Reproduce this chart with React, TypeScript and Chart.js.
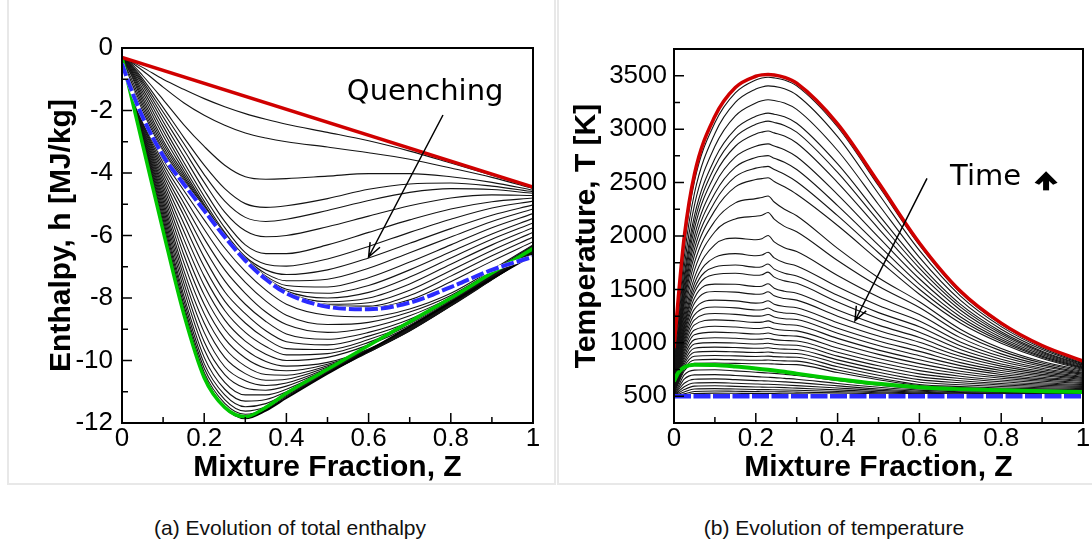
import React, { useEffect, useRef } from 'react';
import Chart from 'chart.js/auto';

// ---------------- Panel (a): total enthalpy ----------------
const enthalpyZ = [0, 0.02, 0.05, 0.1, 0.15, 0.2, 0.25, 0.3, 0.35, 0.4, 0.5, 0.6, 0.7, 0.8, 0.9, 1.0];
const enthalpyRedZ = [0, 1];
const enthalpyRed = [-0.3, -4.45];
const enthalpyBlue = [-0.5, -1.25, -2.2, -3.45, -4.35, -5.2, -6.05, -6.8, -7.4, -7.85, -8.28, -8.36, -8.15, -7.65, -7.1, -6.68];
const enthalpyGreen = [-0.3, -1.42, -3.08, -5.85, -8.5, -10.55, -11.5, -11.8, -11.5, -11.05, -10.28, -9.52, -8.76, -8.0, -7.2, -6.42];
const enthalpyBottom = [-0.33, -1.4, -3.05, -5.8, -8.45, -10.5, -11.5, -11.85, -11.6, -11.2, -10.42, -9.68, -8.92, -8.15, -7.38, -6.62];
const enthalpyUpper: number[][] = [
  [-0.3, -0.42, -0.62, -1.0, -1.32, -1.62, -1.88, -2.1, -2.28, -2.44, -2.7, -2.97, -3.3, -3.68, -4.07, -4.47],
  [-0.3, -0.44, -0.72, -1.25, -1.75, -2.15, -2.47, -2.72, -2.88, -3.0, -3.17, -3.35, -3.56, -3.84, -4.14, -4.5],
  [-0.3, -0.47, -0.88, -1.65, -2.45, -3.15, -3.75, -4.12, -4.2, -4.18, -4.1, -4.02, -4.02, -4.12, -4.3, -4.55],
  [-0.3, -0.5, -0.98, -1.9, -2.85, -3.75, -4.5, -4.98, -5.1, -5.05, -4.82, -4.52, -4.35, -4.32, -4.42, -4.6],
  [-0.3, -0.52, -1.05, -2.05, -3.05, -4.05, -4.9, -5.42, -5.55, -5.48, -5.2, -4.88, -4.62, -4.5, -4.53, -4.65],
  [-0.3, -0.55, -1.12, -2.2, -3.25, -4.3, -5.25, -5.85, -6.04, -6.0, -5.72, -5.38, -5.05, -4.8, -4.7, -4.72],
  [-0.3, -0.58, -1.2, -2.35, -3.45, -4.55, -5.55, -6.3, -6.58, -6.58, -6.3, -5.9, -5.5, -5.15, -4.92, -4.8],
  [-0.3, -0.62, -1.3, -2.5, -3.65, -4.75, -5.75, -6.55, -6.92, -6.98, -6.75, -6.35, -5.9, -5.48, -5.12, -4.9],
  [-0.3, -0.66, -1.4, -2.65, -3.8, -4.9, -5.9, -6.68, -7.1, -7.25, -7.1, -6.72, -6.25, -5.78, -5.35, -5.02],
  [-0.3, -0.7, -1.5, -2.8, -3.92, -5.0, -5.95, -6.72, -7.22, -7.45, -7.4, -7.05, -6.55, -6.05, -5.55, -5.15],
  [-0.32, -0.75, -1.6, -2.95, -4.02, -5.05, -5.98, -6.75, -7.3, -7.6, -7.65, -7.35, -6.85, -6.3, -5.75, -5.3],
  [-0.32, -0.8, -1.7, -3.05, -4.1, -5.1, -6.0, -6.77, -7.35, -7.72, -7.85, -7.6, -7.1, -6.52, -5.95, -5.45],
  [-0.33, -0.9, -1.8, -3.15, -4.17, -5.13, -6.02, -6.78, -7.38, -7.78, -8.0, -7.82, -7.33, -6.72, -6.12, -5.6],
  [-0.33, -1.0, -1.9, -3.25, -4.23, -5.16, -6.03, -6.79, -7.39, -7.82, -8.12, -8.0, -7.55, -6.92, -6.3, -5.75],
  [-0.33, -1.1, -2.0, -3.33, -4.28, -5.18, -6.04, -6.8, -7.4, -7.84, -8.2, -8.15, -7.75, -7.12, -6.48, -5.9],
  [-0.33, -1.15, -2.08, -3.38, -4.31, -5.19, -6.05, -6.8, -7.4, -7.85, -8.24, -8.26, -7.92, -7.3, -6.65, -6.05],
  [-0.33, -1.2, -2.14, -3.42, -4.33, -5.2, -6.05, -6.8, -7.4, -7.85, -8.26, -8.32, -8.06, -7.48, -6.82, -6.2],
];
const enthalpyLower: number[][] = [
  [-0.33, -1.26, -2.25, -3.56, -4.55, -5.5, -6.4, -7.15, -7.75, -8.2, -8.55, -8.6, -8.35, -7.85, -7.1, -6.3],
  [-0.33, -1.27, -2.3, -3.68, -4.75, -5.8, -6.75, -7.5, -8.1, -8.55, -8.85, -8.78, -8.45, -7.92, -7.15, -6.32],
  [-0.33, -1.28, -2.35, -3.8, -4.95, -6.1, -7.1, -7.85, -8.45, -8.85, -9.1, -8.95, -8.57, -7.98, -7.2, -6.34],
  [-0.33, -1.29, -2.4, -3.92, -5.15, -6.4, -7.45, -8.2, -8.75, -9.15, -9.32, -9.1, -8.68, -8.03, -7.23, -6.36],
  [-0.33, -1.3, -2.45, -4.04, -5.35, -6.7, -7.8, -8.5, -9.05, -9.4, -9.5, -9.22, -8.76, -8.07, -7.26, -6.38],
  [-0.33, -1.31, -2.5, -4.16, -5.6, -7.0, -8.1, -8.8, -9.3, -9.62, -9.65, -9.33, -8.82, -8.1, -7.28, -6.4],
  [-0.33, -1.32, -2.55, -4.28, -5.85, -7.3, -8.4, -9.1, -9.55, -9.82, -9.78, -9.42, -8.87, -8.12, -7.29, -6.42],
  [-0.33, -1.33, -2.6, -4.4, -6.1, -7.6, -8.7, -9.38, -9.8, -10.0, -9.9, -9.5, -8.91, -8.14, -7.3, -6.44],
  [-0.33, -1.34, -2.65, -4.52, -6.35, -7.9, -9.0, -9.65, -10.03, -10.18, -10.06, -9.63, -8.96, -8.16, -7.32, -6.46],
  [-0.33, -1.35, -2.7, -4.64, -6.6, -8.2, -9.3, -9.92, -10.25, -10.33, -10.12, -9.65, -8.97, -8.17, -7.33, -6.48],
  [-0.33, -1.35, -2.75, -4.76, -6.85, -8.5, -9.6, -10.18, -10.45, -10.47, -10.17, -9.66, -8.98, -8.18, -7.34, -6.5],
  [-0.33, -1.36, -2.8, -4.88, -7.1, -8.8, -9.9, -10.42, -10.63, -10.6, -10.21, -9.67, -8.99, -8.19, -7.35, -6.51],
  [-0.33, -1.36, -2.84, -5.0, -7.3, -9.1, -10.2, -10.65, -10.8, -10.72, -10.25, -9.68, -9.0, -8.2, -7.36, -6.52],
  [-0.33, -1.37, -2.88, -5.12, -7.5, -9.4, -10.45, -10.88, -10.95, -10.82, -10.28, -9.69, -9.01, -8.21, -7.37, -6.53],
  [-0.33, -1.37, -2.92, -5.24, -7.7, -9.65, -10.7, -11.1, -11.1, -10.92, -10.31, -9.7, -9.02, -8.22, -7.38, -6.54],
  [-0.33, -1.38, -2.95, -5.36, -7.9, -9.9, -10.92, -11.3, -11.25, -11.0, -10.34, -9.71, -9.03, -8.23, -7.39, -6.55],
  [-0.33, -1.38, -2.98, -5.48, -8.05, -10.1, -11.1, -11.48, -11.38, -11.07, -10.36, -9.72, -9.04, -8.24, -7.4, -6.56],
  [-0.33, -1.39, -3.0, -5.6, -8.2, -10.25, -11.25, -11.62, -11.48, -11.12, -10.38, -9.73, -9.05, -8.25, -7.41, -6.57],
  [-0.33, -1.39, -3.02, -5.7, -8.32, -10.38, -11.37, -11.72, -11.55, -11.15, -10.4, -9.74, -9.06, -8.26, -7.42, -6.58],
];
const zTicks = [0, 0.2, 0.4, 0.6, 0.8, 1];
const zMinor = [0.1, 0.3, 0.5, 0.7, 0.9];
const hTicks = [-12, -10, -8, -6, -4, -2, 0];
const hMinor = [-11, -9, -7, -5, -3, -1];

// ---------------- Panel (b): temperature ----------------
const tempZ = [0, 0.01, 0.025, 0.05, 0.1, 0.15, 0.2, 0.215, 0.23, 0.245, 0.27, 0.3, 0.4, 0.5, 0.6, 0.7, 0.8, 0.9, 1.0];
const tempRed = [950, 1400, 1990, 2580, 3120, 3390, 3495, 3508, 3512, 3507, 3485, 3430, 3050, 2500, 1935, 1485, 1185, 975, 830];
const tempGreen = [640, 720, 772, 795, 792, 778, 760, 754, 748, 742, 730, 712, 660, 617, 585, 567, 556, 548, 541];
const tempBlueZ = [0, 1];
const tempBlue = [500, 500];
const tempCurves: number[][] = [
  [880, 1310, 1900, 2510, 3060, 3340, 3460, 3478, 3485, 3480, 3460, 3405, 3020, 2470, 1915, 1470, 1172, 966, 822],
  [820, 1220, 1800, 2400, 2960, 3250, 3375, 3395, 3405, 3400, 3378, 3320, 2930, 2395, 1865, 1440, 1152, 952, 812],
  [780, 1150, 1710, 2290, 2840, 3125, 3245, 3265, 3275, 3268, 3245, 3185, 2800, 2295, 1800, 1400, 1128, 937, 803],
  [750, 1090, 1630, 2190, 2725, 3000, 3120, 3140, 3150, 3140, 3115, 3055, 2675, 2200, 1740, 1362, 1104, 922, 794],
  [730, 1050, 1580, 2130, 2650, 2925, 3045, 3065, 3075, 3063, 3035, 2972, 2595, 2140, 1700, 1337, 1088, 912, 788],
  [710, 1020, 1530, 2070, 2575, 2840, 2955, 2972, 2982, 2965, 2935, 2870, 2500, 2070, 1652, 1308, 1070, 900, 781],
  [690, 990, 1480, 2000, 2485, 2740, 2840, 2855, 2862, 2842, 2808, 2742, 2388, 1990, 1600, 1276, 1050, 888, 773],
  [670, 960, 1440, 1940, 2400, 2645, 2735, 2747, 2752, 2728, 2690, 2622, 2285, 1915, 1550, 1245, 1032, 876, 766],
  [655, 935, 1400, 1880, 2320, 2555, 2635, 2645, 2652, 2622, 2578, 2508, 2190, 1843, 1502, 1216, 1014, 865, 759],
  [640, 910, 1360, 1820, 2240, 2460, 2528, 2537, 2545, 2510, 2460, 2390, 2098, 1773, 1455, 1186, 996, 853, 752],
  [625, 880, 1310, 1750, 2140, 2310, 2350, 2360, 2375, 2318, 2250, 2190, 1884, 1610, 1385, 1128, 948, 826, 743],
  [612, 855, 1265, 1680, 2040, 2160, 2185, 2195, 2220, 2158, 2090, 2040, 1770, 1529, 1330, 1092, 925, 811, 734],
  [600, 830, 1220, 1610, 1920, 1980, 1965, 1975, 2005, 1945, 1890, 1855, 1631, 1430, 1265, 1049, 897, 794, 724],
  [590, 810, 1180, 1555, 1800, 1835, 1815, 1822, 1848, 1795, 1750, 1720, 1524, 1349, 1205, 1009, 872, 779, 715],
  [583, 795, 1150, 1510, 1710, 1728, 1708, 1713, 1738, 1690, 1652, 1625, 1445, 1283, 1150, 972, 847, 763, 705],
  [577, 782, 1125, 1470, 1640, 1652, 1632, 1637, 1662, 1615, 1580, 1557, 1383, 1228, 1100, 938, 825, 749, 696],
  [571, 768, 1095, 1420, 1550, 1548, 1527, 1530, 1553, 1512, 1483, 1465, 1307, 1166, 1050, 904, 802, 733, 686],
  [566, 755, 1068, 1370, 1480, 1475, 1455, 1457, 1478, 1440, 1415, 1400, 1250, 1116, 1005, 874, 782, 720, 677],
  [561, 742, 1038, 1315, 1400, 1393, 1372, 1375, 1394, 1362, 1340, 1328, 1189, 1064, 962, 844, 761, 705, 667],
  [557, 730, 1010, 1262, 1335, 1327, 1308, 1310, 1326, 1298, 1280, 1270, 1137, 1018, 920, 815, 742, 692, 658],
  [553, 718, 983, 1215, 1275, 1267, 1250, 1252, 1266, 1242, 1226, 1218, 1090, 975, 880, 787, 722, 678, 648],
  [550, 706, 956, 1168, 1215, 1207, 1192, 1194, 1206, 1186, 1172, 1165, 1042, 932, 842, 761, 704, 665, 639],
  [547, 694, 928, 1120, 1155, 1148, 1135, 1137, 1146, 1130, 1118, 1112, 996, 892, 806, 735, 686, 652, 629],
  [544, 683, 900, 1075, 1100, 1094, 1083, 1085, 1092, 1078, 1068, 1063, 952, 853, 772, 711, 669, 640, 620],
  [541, 672, 873, 1030, 1048, 1043, 1034, 1035, 1041, 1030, 1022, 1018, 912, 818, 740, 688, 652, 627, 610],
  [539, 662, 848, 990, 1002, 998, 990, 991, 996, 987, 980, 977, 876, 785, 710, 666, 636, 615, 601],
  [537, 652, 823, 950, 960, 956, 949, 950, 954, 947, 941, 938, 841, 754, 682, 646, 620, 603, 591],
  [535, 642, 800, 912, 920, 916, 910, 911, 914, 908, 903, 901, 808, 725, 656, 626, 606, 592, 582],
  [533, 633, 778, 875, 882, 878, 873, 874, 876, 871, 867, 865, 776, 697, 632, 608, 591, 580, 572],
  [531, 624, 757, 840, 845, 841, 837, 837, 839, 835, 831, 829, 746, 671, 610, 591, 578, 569, 563],
  [529, 615, 737, 808, 812, 808, 804, 804, 805, 802, 798, 796, 722, 655, 600, 581, 568, 559, 553],
  [520, 590, 700, 745, 748, 738, 725, 721, 718, 714, 706, 695, 648, 604, 570, 552, 543, 538, 535],
  [515, 570, 660, 700, 703, 695, 684, 681, 678, 675, 668, 660, 620, 585, 558, 543, 535, 532, 530],
  [512, 555, 622, 660, 663, 656, 647, 645, 643, 640, 635, 628, 597, 568, 547, 535, 528, 526, 525],
  [509, 540, 590, 625, 628, 622, 615, 613, 612, 610, 606, 600, 577, 555, 538, 528, 523, 521, 520],
  [506, 528, 563, 595, 598, 593, 587, 586, 585, 584, 581, 576, 560, 543, 530, 522, 518, 516, 515],
  [504, 518, 540, 568, 572, 568, 563, 562, 562, 561, 559, 556, 545, 533, 523, 516, 513, 512, 512],
  [502, 510, 523, 545, 550, 547, 544, 543, 543, 542, 541, 539, 532, 524, 516, 511, 509, 508, 508],
  [500, 505, 512, 525, 530, 528, 526, 526, 526, 525, 524, 523, 519, 514, 510, 507, 506, 505, 505],
];
const tTicks = [500, 1000, 1500, 2000, 2500, 3000, 3500];
const tMinor = [750, 1250, 1750, 2250, 2750, 3250];

const FONT = "'Liberation Sans', Arial, Helvetica, sans-serif";
const ANNO_FONT = "'DejaVu Sans', sans-serif";
const LINE = '#141414';

function series(zs: number[], vs: number[], color: string, width: number, order: number, dash: number[] = []) {
  return {
    data: zs.map((z, i) => ({ x: z, y: vs[i] })),
    borderColor: color,
    borderWidth: width,
    borderDash: dash,
    pointRadius: 0,
    fill: false,
    cubicInterpolationMode: 'monotone',
    order,
  };
}

function frameTicks(xMajor: number[], xMinor: number[], yMajor: number[], yMinor: number[]) {
  return {
    id: 'frameTicks',
    afterDatasetsDraw(chart: any) {
      const { ctx, chartArea: a, scales } = chart;
      const xs = scales.x, ys = scales.y;
      ctx.save();
      ctx.strokeStyle = '#000';
      ctx.lineWidth = 1.5;
      ctx.beginPath();
      xMajor.forEach((v) => { const p = xs.getPixelForValue(v); ctx.moveTo(p, a.bottom); ctx.lineTo(p, a.bottom - 10); });
      xMinor.forEach((v) => { const p = xs.getPixelForValue(v); ctx.moveTo(p, a.bottom); ctx.lineTo(p, a.bottom - 6); });
      yMajor.forEach((v) => { const p = ys.getPixelForValue(v); ctx.moveTo(a.left, p); ctx.lineTo(a.left + 10, p); });
      yMinor.forEach((v) => { const p = ys.getPixelForValue(v); ctx.moveTo(a.left, p); ctx.lineTo(a.left + 6, p); });
      ctx.stroke();
      ctx.lineWidth = 2;
      ctx.strokeRect(a.left, a.top, a.right - a.left, a.bottom - a.top);
      ctx.restore();
    },
  };
}

function drawArrow(ctx: any, x0: number, y0: number, x1: number, y1: number) {
  const head = 15, ang = 0.38;
  const a = Math.atan2(y1 - y0, x1 - x0);
  ctx.beginPath();
  ctx.moveTo(x0, y0);
  ctx.lineTo(x1, y1);
  ctx.moveTo(x1 - head * Math.cos(a - ang), y1 - head * Math.sin(a - ang));
  ctx.lineTo(x1, y1);
  ctx.lineTo(x1 - head * Math.cos(a + ang), y1 - head * Math.sin(a + ang));
  ctx.stroke();
}

function axes(yMin: number, yMax: number, xT: number[], yT: number[], yTitle: string, yWidth: number, yTitlePad: number, yLabelPad: number, tickSize: number) {
  const tickFont = { family: FONT, size: tickSize };
  const titleFont = { family: FONT, size: 30, weight: 'bold' };
  return {
    x: {
      type: 'linear',
      min: 0,
      max: 1,
      afterBuildTicks: (s: any) => { s.ticks = xT.map((v) => ({ value: v })); },
      afterFit: (s: any) => { s.height = 67; },
      ticks: { callback: (v: any) => String(v), font: tickFont, color: '#000', padding: 0, maxRotation: 0, autoSkip: false },
      grid: { display: false, drawTicks: false },
      border: { display: false },
      title: { display: true, text: 'Mixture Fraction, Z', font: titleFont, color: '#000', padding: { top: 0, bottom: 4 } },
    },
    y: {
      type: 'linear',
      min: yMin,
      max: yMax,
      afterBuildTicks: (s: any) => { s.ticks = yT.map((v) => ({ value: v })); },
      afterFit: (s: any) => { s.width = yWidth; },
      ticks: { callback: (v: any) => String(v), font: tickFont, color: '#000', padding: yLabelPad, autoSkip: false },
      grid: { display: false, drawTicks: false },
      border: { display: false },
      title: { display: true, text: yTitle, font: titleFont, color: '#000', padding: { top: yTitlePad, bottom: 0 } },
    },
  };
}

function enthalpyConfig(): any {
  const datasets: any[] = [
    series(enthalpyZ, enthalpyBlue, '#2b2bff', 4, 0, [13, 3]),
    series(enthalpyZ, enthalpyBlue, '#ffffff', 4, 1),
    series(enthalpyRedZ, enthalpyRed, '#d00000', 3.5, 2),
    series(enthalpyZ, enthalpyGreen, '#00c800', 3.5, 3),
    series(enthalpyZ, enthalpyBottom, '#000000', 2, 4),
  ];
  enthalpyUpper.forEach((c) => datasets.push(series(enthalpyZ, c, LINE, 1.1, 10)));
  enthalpyLower.forEach((c) => datasets.push(series(enthalpyZ, c, LINE, 1.1, 10)));
  const annot = {
    id: 'annot',
    afterDraw(chart: any) {
      const { ctx, scales: { x, y } } = chart;
      ctx.save();
      ctx.fillStyle = '#000';
      ctx.font = `29px ${ANNO_FONT}`;
      ctx.textAlign = 'left';
      ctx.textBaseline = 'alphabetic';
      ctx.fillText('Quenching', x.getPixelForValue(0.547), y.getPixelForValue(-1.664));
      ctx.strokeStyle = '#000';
      ctx.lineWidth = 1.5;
      drawArrow(ctx, x.getPixelForValue(0.781), y.getPixelForValue(-2.144), x.getPixelForValue(0.6), y.getPixelForValue(-6.688));
      ctx.restore();
    },
  };
  return {
    type: 'line',
    data: { datasets },
    options: {
      animation: false,
      responsive: false,
      events: [],
      layout: { padding: { top: 48, right: 23, left: 0, bottom: 0 } },
      plugins: { legend: { display: false }, tooltip: { enabled: false } },
      scales: axes(-12, 0, zTicks, hTicks, 'Enthalpy, h [MJ/kg]', 122, 43.6, 9, 26),
    },
    plugins: [frameTicks(zTicks, zMinor, hTicks, hMinor), annot],
  };
}

function temperatureConfig(): any {
  const datasets: any[] = [
    series(tempBlueZ, tempBlue, '#2b2bff', 4.5, 0, [17, 2.5]),
    series(tempBlueZ, tempBlue, '#ffffff', 4.5, 1),
    series(tempZ, tempRed, '#d00000', 3.5, 2),
    series(tempZ, tempGreen, '#00c800', 4, 3),
  ];
  tempCurves.forEach((c) => datasets.push(series(tempZ, c, LINE, 1.1, 10)));
  const annot = {
    id: 'annot',
    afterDraw(chart: any) {
      const { ctx, scales: { x, y } } = chart;
      ctx.save();
      ctx.fillStyle = '#000';
      ctx.font = `29px ${ANNO_FONT}`;
      ctx.textAlign = 'left';
      ctx.textBaseline = 'alphabetic';
      const tx = x.getPixelForValue(0.675);
      const ty = y.getPixelForValue(2474);
      ctx.fillText('Time', tx, ty);
      // bold up arrow next to the word
      const ax = tx + 96;
      ctx.beginPath();
      ctx.moveTo(ax, ty - 14);
      ctx.lineTo(ax + 11.5, ty - 2.5);
      ctx.lineTo(ax + 7, ty - 0.5);
      ctx.lineTo(ax, ty - 7);
      ctx.lineTo(ax - 7, ty - 0.5);
      ctx.lineTo(ax - 11.5, ty - 2.5);
      ctx.closePath();
      ctx.fill();
      ctx.fillRect(ax - 3, ty - 9, 6, 14);
      ctx.strokeStyle = '#000';
      ctx.lineWidth = 1.5;
      drawArrow(ctx, x.getPixelForValue(0.6186), y.getPixelForValue(2539), x.getPixelForValue(0.4425), y.getPixelForValue(1207));
      ctx.restore();
    },
  };
  return {
    type: 'line',
    data: { datasets },
    options: {
      animation: false,
      responsive: false,
      events: [],
      layout: { padding: { top: 49, right: 9, left: 0, bottom: 0 } },
      plugins: { legend: { display: false }, tooltip: { enabled: false } },
      scales: axes(250, 3750, zTicks, tTicks, 'Temperature, T [K]', 116, 10.6, 7, 26),
    },
    plugins: [frameTicks(zTicks, zMinor, tTicks, tMinor), annot],
  };
}

function Panel({ left, width, height, build }: { left: number; width: number; height: number; build: () => any }) {
  const ref = useRef<HTMLCanvasElement | null>(null);
  useEffect(() => {
    if (!ref.current) return;
    const chart = new Chart(ref.current, build());
    return () => chart.destroy();
  }, []);
  return (
    <canvas
      ref={ref}
      width={width}
      height={height}
      style={{ position: 'absolute', left, top: 0, width, height }}
    />
  );
}

export default function App() {
  const caption: React.CSSProperties = {
    position: 'absolute',
    top: 516,
    width: 420,
    textAlign: 'center',
    fontFamily: FONT,
    fontSize: 21,
    lineHeight: '24px',
    color: '#111',
  };
  return (
    <div style={{ position: 'absolute', left: 0, top: 0, width: 1092, height: 546, background: '#fff', overflow: 'hidden' }}>
      <div style={{ position: 'absolute', left: 7, top: -3, width: 545, height: 484, border: '2px solid #e8e8e8' }} />
      <div style={{ position: 'absolute', left: 557, top: -3, width: 560, height: 484, border: '2px solid #e8e8e8' }} />
      <Panel left={0} width={556} height={490} build={enthalpyConfig} />
      <Panel left={558} width={534} height={490} build={temperatureConfig} />
      <div style={{ ...caption, left: 290 - 210 }}>(a) Evolution of total enthalpy</div>
      <div style={{ ...caption, left: 834 - 210 }}>(b) Evolution of temperature</div>
    </div>
  );
}
